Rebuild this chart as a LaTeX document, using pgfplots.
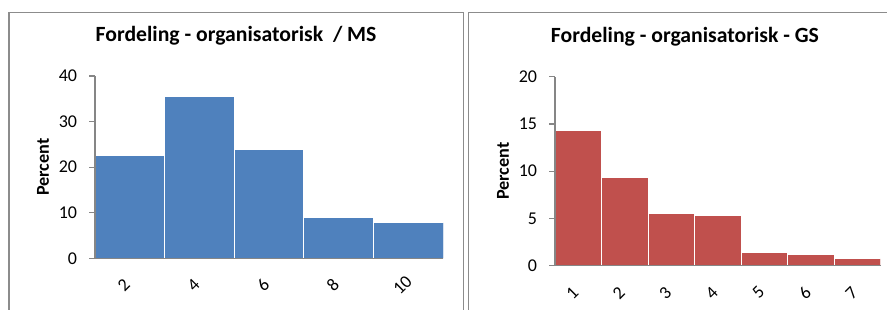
\documentclass[border=0pt]{standalone}
\usepackage{pgfplots}
\pgfplotsset{compat=1.18}
\usepackage{fontspec}
\setmainfont{Carlito}
\definecolor{msblue}{RGB}{79,129,189}
\definecolor{gsred}{RGB}{192,80,77}
\definecolor{framegray}{RGB}{140,140,140}
\definecolor{axgray}{RGB}{134,134,134}
\pgfplotsset{
  mystyle/.style={
    scale only axis,
    axis on top,
    axis lines=left,
    axis line style={-, draw=axgray, line width=1.1bp},
    ytick style={draw=axgray, line width=1.1bp},
    major tick length=6bp,
    tick align=outside,
    xtick style={draw=none},
    ymin=0,
    xtick=data,
    /pgf/number format/assume math mode=true,
    tick label style={font=\fontsize{18bp}{20bp}\selectfont},
    yticklabel style={anchor=east, inner sep=0pt, xshift=-11.7bp},
    xticklabel style={anchor=center, inner sep=0pt, xshift=-6bp, yshift=-21bp, rotate=45},
    every axis y label/.style={at={(axis description cs:0,0.5)}, xshift=-52bp, rotate=90, anchor=center, font=\bfseries\fontsize{18.2bp}{20bp}\selectfont},
    ybar, bar width=1,
    every axis plot/.append style={draw=white, line width=1bp},
  }
}
\begin{document}
\begin{tikzpicture}[x=1bp,y=1bp]
\useasboundingbox (0,0) rectangle (887,309);
\draw[framegray, line width=1.2bp] (9,-2) -- (9,296.3) -- (463.3,296.3) -- (463.3,-2);
\draw[framegray, line width=1.2bp] (468.3,-2) -- (468.3,296.3) -- (890,296.3);
\begin{axis}[mystyle,
  at={(95bp,50.7bp)}, anchor=south west,
  width=348.3bp, height=182.3bp,
  xmin=0.5, xmax=5.5, ymax=40, ytick={0,10,20,30,40},
  xticklabels={2,4,6,8,10},
  ylabel={Percent},
  title={Fordeling - organisatorisk \ / MS},
  title style={at={(axis description cs:0.405,1)}, anchor=base, yshift=28.7bp, font=\bfseries\fontsize{21.7bp}{26bp}\selectfont},
]
\addplot[fill=msblue] coordinates {(1,22.66) (2,35.47) (3,23.9) (4,8.9) (5,7.8)};
\end{axis}
\begin{axis}[mystyle,
  at={(555bp,43.3bp)}, anchor=south west,
  width=325.7bp, height=189bp,
  xmin=0.5, xmax=7.5, ymax=20, ytick={0,5,10,15,20},
  xticklabels={1,2,3,4,5,6,7},
  ylabel={Percent},
  title={Fordeling - organisatorisk - GS},
  title style={at={(axis description cs:0.399,1)}, anchor=base, yshift=28.7bp, font=\bfseries\fontsize{21.7bp}{26bp}\selectfont},
]
\addplot[fill=gsred] coordinates {(1,14.29) (2,9.31) (3,5.54) (4,5.26) (5,1.41) (6,1.16) (7,0.71)};
\end{axis}
\end{tikzpicture}
\end{document}
